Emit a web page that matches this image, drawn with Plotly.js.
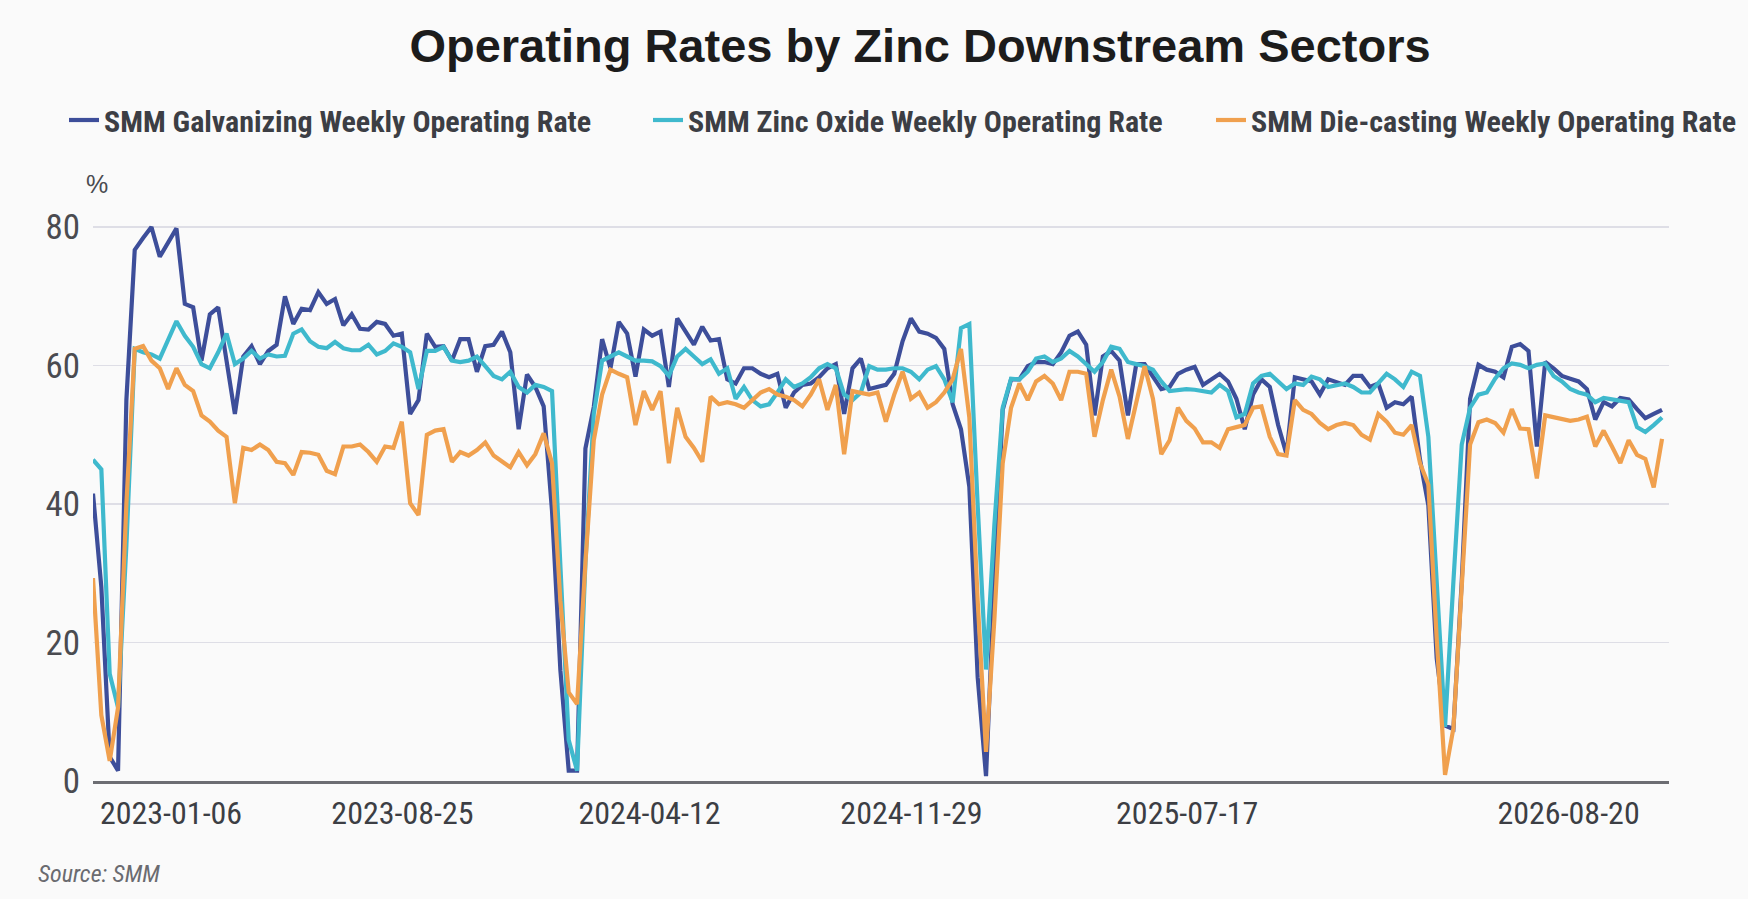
<!DOCTYPE html>
<html>
<head>
<meta charset="utf-8">
<script src="https://cdn.plot.ly/plotly-3.0.1.min.js"></script>
<style>
html,body{margin:0;padding:0;background:#fafafa;}
#chart{width:1748px;height:899px;}
</style>
</head>
<body>
<div id="chart"></div>
<script>
// ---- data ----
const seriesNames = [
  "SMM Galvanizing Weekly Operating Rate",
  "SMM Zinc Oxide Weekly Operating Rate",
  "SMM Die-casting Weekly Operating Rate"
];
const galvanizing = [
  41.5, 28, 3.5, 1.5, 55, 76.7, 78.4, 80, 75.7, 77.8,
  79.8, 68.9, 68.4, 60.7, 67.4, 68.4, 60.7, 53, 61.3, 62.8,
  60.2, 62.1, 63, 70, 66, 68.2, 68, 70.6, 68.9, 69.6,
  65.8, 67.4, 65.3, 65.2, 66.3, 66, 64.3, 64.6, 53, 55,
  64.6, 62.7, 62.8, 60.7, 63.8, 63.8, 59.1, 62.8, 63, 64.9,
  61.9, 50.8, 58.7, 56.9, 54.1, 39, 16, 1.5, 1.5, 48,
  54, 63.8, 59.6, 66.3, 64.6, 58.4, 65.2, 64.3, 64.9, 56.9,
  66.8, 64.9, 63, 65.6, 63.6, 63.8, 58, 57.4, 59.6, 59.6,
  58.8, 58.3, 58.8, 53.9, 56.1, 57.2, 57.4, 58.3, 59.6, 60.2,
  53, 59.6, 61, 56.6, 56.9, 57.2, 58.8, 63.5, 66.8, 64.9,
  64.6, 64, 62.4, 54.4, 50.8, 42.5, 15, 0.7, 28.8, 53.6,
  58, 58, 59.9, 60.5, 60.5, 60.2, 61.9, 64.3, 64.9, 63,
  52.8, 61.3, 62.1, 60.7, 52.8, 60.2, 60.2, 58.5, 56.6, 56.9,
  58.8, 59.4, 59.8, 57.2, 58, 58.8, 57.7, 55.2, 50.8, 55.8,
  58, 56.9, 51.4, 47.2, 58.3, 58, 57.7, 55.8, 58, 57.6,
  57.2, 58.5, 58.5, 56.9, 57.4, 53.9, 54.7, 54.4, 55.5, 46.4,
  39.8, 17.7, 8, 7.5, 28.8, 55.2, 60.1, 59.4, 59.1, 58.3,
  62.7, 63.1, 62.1, 48.3, 60.5, 59.6, 58.5, 58.1, 57.7, 56.6,
  52.2, 54.7, 54.1, 55.3, 55.1, 53.7, 52.4, 53, 53.6
];
const zincOxide = [
  46.4, 45, 15.5, 10.6, 34, 62.4, 61.9, 61.6, 61, 63.8,
  66.4, 64.3, 62.7, 60.2, 59.6, 61.9, 64.6, 60.2, 61, 62.1,
  61, 61.6, 61.3, 61.4, 64.6, 65.2, 63.5, 62.7, 62.5, 63.4,
  62.5, 62.2, 62.2, 63, 61.6, 62.1, 63.2, 62.7, 61.9, 56.6,
  62.1, 62.1, 62.7, 60.7, 60.5, 60.7, 61.3, 59.9, 58.5, 58,
  59.1, 56.9, 56.1, 57.2, 56.9, 56.3, 31.5, 5.9, 1.5, 31.5,
  53, 60.7, 61.3, 61.9, 61.3, 60.7, 60.7, 60.6, 59.9, 58.5,
  61.3, 62.4, 61.3, 60.2, 60.9, 58.8, 59.6, 55.2, 56.9, 55,
  54.1, 54.4, 56.1, 58, 56.9, 57.4, 58.3, 59.6, 60.2, 59.6,
  55.8, 55, 56.1, 59.9, 59.4, 59.4, 59.6, 59.6, 59.1, 58,
  59.4, 59.9, 58, 54.7, 65.4, 66, 39.8, 16.1, 37, 53.9,
  58.1, 58, 59.1, 61, 61.3, 60.5, 61, 62.1, 61.3, 60.2,
  59.1, 60.5, 62.7, 62.4, 60.5, 60.2, 59.9, 59.4, 57.7, 56.3,
  56.4, 56.6, 56.5, 56.3, 56.1, 57.2, 56.3, 52.5, 53, 57.4,
  58.5, 58.8, 57.7, 56.6, 57.4, 57.2, 58.4, 58, 56.9, 57.2,
  57.4, 56.9, 56.1, 56.1, 57.4, 58.8, 58, 56.9, 59.1, 58.5,
  49.7, 28.8, 7.8, 28.8, 48.6, 53.9, 55.8, 56.1, 58.1, 59.6,
  60.3, 60.1, 59.6, 60.1, 60.3, 58.5, 57.7, 56.6, 56.1, 55.8,
  54.7, 55.3, 55.1, 55, 54.7, 51.1, 50.4, 51.4, 52.5
];
const dieCasting = [
  29.3, 9.5, 2.9, 10.6, 40, 62.4, 62.8, 60.7, 59.6, 56.6,
  59.6, 57.2, 56.3, 52.8, 51.9, 50.6, 49.7, 40.1, 48.1, 47.8,
  48.6, 47.8, 46.1, 45.9, 44.2, 47.5, 47.4, 47.1, 44.8, 44.3,
  48.3, 48.3, 48.6, 47.5, 46.1, 48.3, 48.1, 51.9, 40.1, 38.4,
  50, 50.6, 50.8, 46.1, 47.5, 47, 47.8, 48.9, 47, 46.1,
  45.3, 47.5, 45.6, 47.2, 50.2, 45.9, 26, 12.8, 11.1, 31.5,
  49.2, 55.8, 59.4, 58.8, 58.3, 51.4, 56.3, 53.6, 56.3, 45.9,
  53.9, 49.7, 48.1, 46.1, 55.5, 54.4, 54.7, 54.4, 53.9, 55,
  56.1, 56.6, 55.8, 55.5, 55, 54.1, 55.8, 58, 53.6, 57.2,
  47.2, 56.3, 56.1, 55.8, 56.1, 51.9, 55.8, 59.1, 55.2, 56.1,
  53.9, 54.7, 56.1, 58, 62.4, 52.5, 26, 4.2, 23.3, 45.9,
  53.9, 57.4, 55, 57.7, 58.5, 57.4, 55, 59.1, 59.1, 58.8,
  49.7, 55, 59.4, 55.5, 49.4, 54.4, 59.9, 55.2, 47.2, 49.2,
  53.9, 52, 50.9, 48.9, 48.9, 48.1, 50.8, 51.1, 51.4, 53.9,
  54.1, 49.7, 47.2, 47, 55, 53.6, 53, 51.7, 50.8, 51.4,
  51.7, 51.4, 50, 49.3, 53, 51.9, 50.3, 50, 51.4, 45.9,
  42.8, 20.5, 0.9, 7.6, 28.8, 48.6, 51.8, 52.2, 51.7, 50.3,
  53.7, 50.9, 50.8, 43.7, 52.8, 52.5, 52.2, 52, 52.2, 52.6,
  48.3, 50.6, 48.3, 45.9, 49.2, 47.1, 46.5, 42.4, 49.4
];
// week index at which each date label sits
const tickWeeks = [9.35, 37.08, 66.68, 98.07, 131.1, 176.8];
const tickLabels = ["2023-01-06", "2023-08-25", "2024-04-12", "2024-11-29", "2025-07-17", "2026-08-20"];
const yTicks = [0, 20, 40, 60, 80];

// ---- styles ----
const COND = "'Roboto Condensed', 'Liberation Sans', Arial, sans-serif";
const SANS = "'Liberation Sans', Arial, Helvetica, sans-serif";
const colors = ["#3d4e9a", "#3fb9cd", "#f0a04e"];
const W = 1748, H = 899;
const L = 93, R = 79, T = 200, B = 118;
const pw = W - L - R, ph = H - T - B;
const px = v => (v - L) / pw;
const py = v => (H - B - v) / ph;

const allSeries = [galvanizing, zincOxide, dieCasting];
const legendIds = ["legend", "legend2", "legend3"];
const traces = allSeries.map((ys, k) => ({
  type: "scatter", mode: "lines",
  y: ys, name: seriesNames[k],
  line: {color: colors[k], width: 4.2},
  legend: legendIds[k],
  hoverinfo: "skip"
}));

const legendBase = {
  orientation: "h", yanchor: "middle", xanchor: "left",
  xref: "container", yref: "container",
  bgcolor: "rgba(0,0,0,0)", borderwidth: 0,
  font: {family: COND, size: 30, color: "#3c3e44", weight: "bold"}
};
const layout = {
  width: W, height: H,
  paper_bgcolor: "#fafafa", plot_bgcolor: "#fafafa",
  margin: {l: L, r: R, t: T, b: B, pad: 0, autoexpand: false},
  title: {
    text: "<b>Operating Rates by Zinc Downstream Sectors</b>",
    font: {family: SANS, size: 47, color: "#1c1c1c"},
    x: 920 / W, xanchor: "center", xref: "container",
    y: 1 - 46 / H, yanchor: "middle", yref: "container"
  },
  showlegend: true,
  legend: Object.assign({}, legendBase, {x: 64 / W, y: 1 - 120 / H}),
  legend2: Object.assign({}, legendBase, {x: 648 / W, y: 1 - 120 / H}),
  legend3: Object.assign({}, legendBase, {x: 1211 / W, y: 1 - 120 / H}),
  xaxis: {
    range: [0, pw / 8.346],
    tickmode: "array", tickvals: tickWeeks, ticktext: tickLabels,
    showgrid: false, zeroline: false,
    showline: true, linecolor: "#6c6d72", linewidth: 3,
    ticks: "", ticklabelstandoff: 2,
    tickfont: {family: COND, size: 32, color: "#3c3e44"}
  },
  yaxis: {
    range: [0, ph / 6.925],
    tickmode: "array", tickvals: yTicks,
    showgrid: true, gridcolor: "#dedee6", gridwidth: 1.5,
    zeroline: false, showline: false, ticks: "",
    ticklabelstandoff: 12,
    tickfont: {family: COND, size: 35, color: "#4a4b50"}
  },
  annotations: [
    {text: "%", xref: "paper", yref: "paper", x: px(97), y: py(184),
     xanchor: "center", yanchor: "middle", showarrow: false,
     font: {family: SANS, size: 25, color: "#4a4b50"}},
    {text: "<i>Source: SMM</i>", xref: "paper", yref: "paper", x: px(36), y: py(874),
     xanchor: "left", yanchor: "middle", showarrow: false,
     font: {family: COND, size: 24, color: "#6a6b70"}}
  ]
};
Plotly.newPlot("chart", traces, layout, {displayModeBar: false, staticPlot: true});
</script>
</body>
</html>
